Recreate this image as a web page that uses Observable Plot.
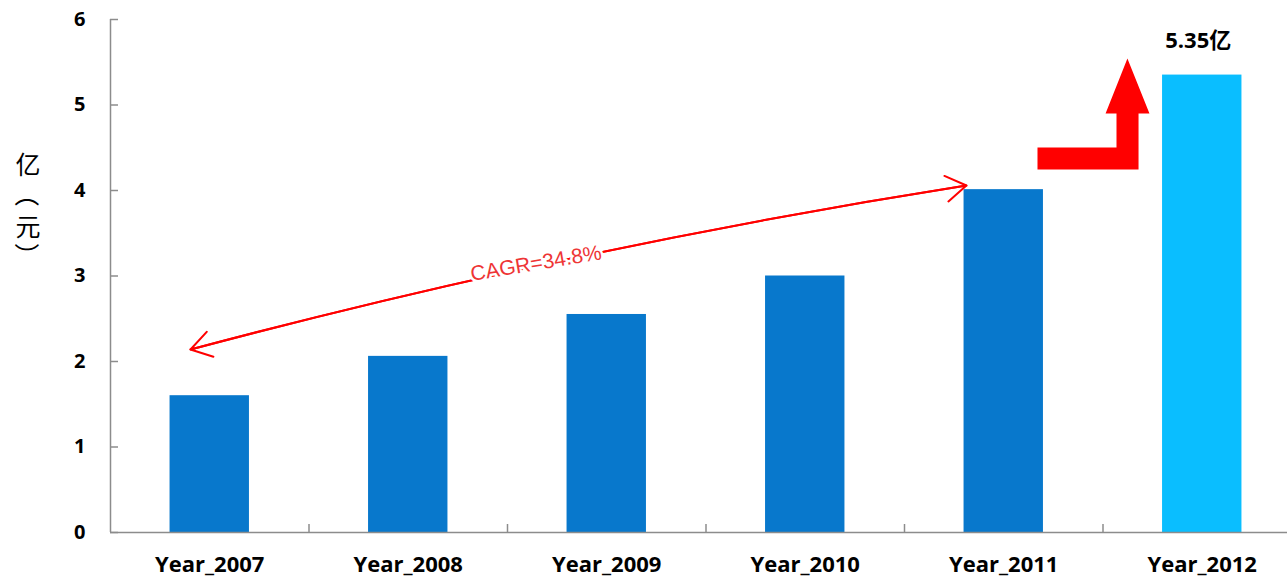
<!DOCTYPE html>
<html><head><meta charset="utf-8">
<script src="https://cdn.jsdelivr.net/npm/d3@7"></script>
<script src="https://cdn.jsdelivr.net/npm/@observablehq/plot@0.6"></script>
<style>
html,body{margin:0;padding:0;background:#fff;overflow:hidden}
#wrap{position:relative;width:1287px;height:583px}
#chart svg{display:block}
#ytitle{position:absolute;left:8px;top:148px;width:40px;font-family:'Noto Sans CJK SC',sans-serif;font-size:25px;color:#000;text-align:center}
#ytitle span{display:block;height:30.75px;line-height:30.75px}
#ytitle span.rot{transform:rotate(90deg)}
</style></head><body><div id="wrap"><div id="chart"></div><div id="ytitle"></div></div>
<script>
// ---- data ----
const years = ["Year_2007", "Year_2008", "Year_2009", "Year_2010", "Year_2011", "Year_2012"];
const values = [1.60, 2.06, 2.55, 3.00, 4.01, 5.35];
const barColors = ["#0878CC", "#0878CC", "#0878CC", "#0878CC", "#0878CC", "#0ABEFF"];
const yTicks = [0, 1, 2, 3, 4, 5, 6];
const bandEdges = [0.5, 1.5, 2.5, 3.5, 4.5];
const yTitle = "亿（元）";
const valueLabel = "5.35亿";
const cagrLabel = "CAGR=34.8%";
// annotation positions in data space (x = category index, y = 亿元)
const cagrArrow = [{x1: -0.097, y1: 2.14, x2: 3.812, y2: 4.058}];
const cagrTextPos = [{x: 1.314, y: 3.02}];
const bentArrow = [
  {x: 4.170, y: 4.503}, {x: 4.568, y: 4.503}, {x: 4.568, y: 4.901},
  {x: 4.513, y: 4.901}, {x: 4.623, y: 5.544}, {x: 4.734, y: 4.901},
  {x: 4.679, y: 4.901}, {x: 4.679, y: 4.246}, {x: 4.170, y: 4.246}
];

const bars = years.map((name, i) => ({i, name, value: values[i], color: barColors[i]}));
const axisColor = "#8c8c8c";
const font = "'Open Sans', 'Noto Sans CJK SC', sans-serif";

const chart = Plot.plot({
  width: 1287,
  height: 583,
  marginLeft: 110,
  marginRight: 0,
  marginTop: 19,
  marginBottom: 51,
  style: {fontFamily: font, fontSize: "20px", fontWeight: "bold", color: "#000", background: "#fff"},
  x: {type: "linear", domain: [-0.5, 5.5], range: [110, 1301]},
  y: {domain: [0, 6]},
  marks: [
    Plot.rectY(bars, {x1: d => d.i - 0.2, x2: d => d.i + 0.2, y1: 0, y2: "value", fill: "color"}),
    Plot.ruleX([-0.5], {y1: 0, y2: 6, stroke: axisColor, strokeWidth: 1.5}),
    Plot.ruleY([0], {stroke: axisColor, strokeWidth: 1.5}),
    Plot.axisY({ticks: yTicks, tickSize: 8, dx: 8, tickFormat: () => "", stroke: axisColor, strokeWidth: 1.5, label: null}),
    Plot.axisY({ticks: yTicks, tickSize: 0, tickPadding: 25, tickFormat: d => String(d), label: null, fontSize: 20, fontWeight: "bold"}),
    Plot.axisX({ticks: bandEdges, tickSize: 8, dy: -8, tickFormat: () => "", stroke: axisColor, strokeWidth: 1.5, label: null}),
    Plot.axisX({ticks: bars.map(d => d.i), tickSize: 0, tickPadding: 24, tickFormat: i => years[i], label: null, fontSize: 22, fontWeight: "bold"}),
    Plot.text(bars.filter(d => d.name === "Year_2012"), {x: "i", y: "value", text: () => valueLabel, dx: -4, dy: -34, fontSize: 22, fontWeight: "bold", fill: "#000"}),
    Plot.line(bentArrow, {x: "x", y: "y", fill: "#ff0000", stroke: "none"}),
    Plot.arrow(cagrArrow, {x1: "x1", y1: "y1", x2: "x2", y2: "y2", bend: 3, stroke: "#ff0000", strokeWidth: 2, headLength: 18, headAngle: 65}),
    Plot.arrow(cagrArrow, {x1: "x2", y1: "y2", x2: "x1", y2: "y1", bend: -3, stroke: "#ff0000", strokeWidth: 2, headLength: 18, headAngle: 65}),
    Plot.text(cagrTextPos, {x: "x", y: "y", text: () => cagrLabel, textAnchor: "start", rotate: -9.5, fontSize: 21, fontWeight: "normal", fontFamily: "'Liberation Sans', Arial, sans-serif", fill: "#ee3535", stroke: "#fff", strokeWidth: 5})
  ]
});
document.getElementById("chart").appendChild(chart);
// vertical axis title: one block per character, brackets turned for vertical reading
const yt = document.getElementById("ytitle");
Array.from(yTitle).forEach(ch => {
  const s = document.createElement("span");
  s.textContent = ch;
  if (ch === "（" || ch === "）") s.className = "rot";
  yt.appendChild(s);
});
</script>
</body></html>
